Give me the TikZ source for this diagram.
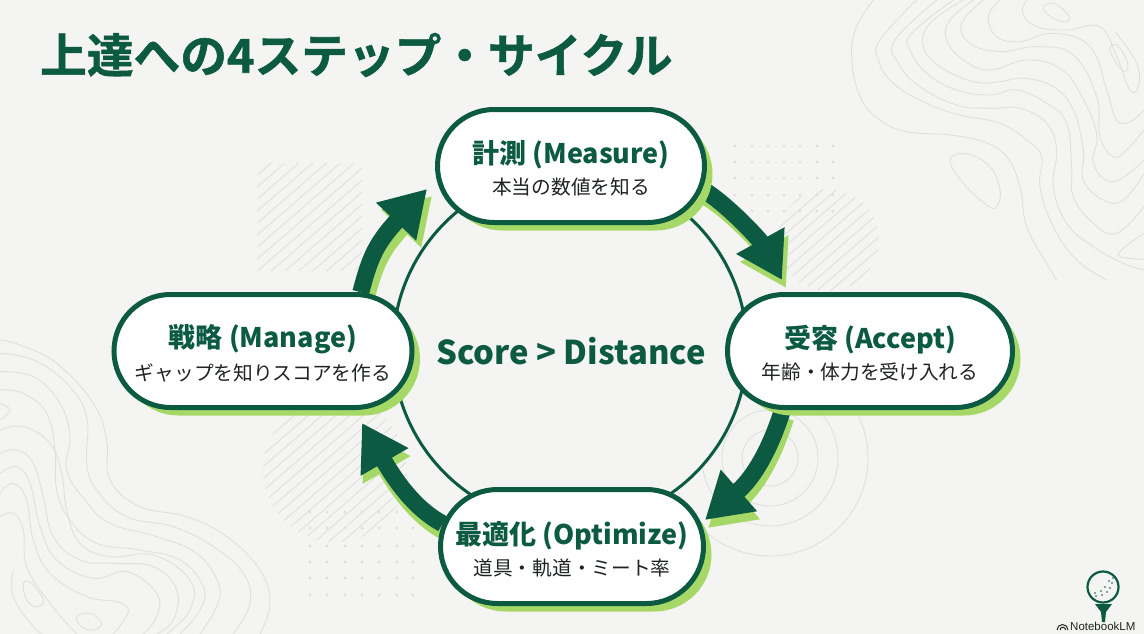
\documentclass[tikz,border=0pt]{standalone}
\usepackage{fontspec}
\setmainfont{Noto Sans CJK JP}
\newfontfamily\titlefont[FakeBold=1.2]{Noto Sans CJK JP Bold}
\newfontfamily\logofont{Liberation Sans}
\usetikzlibrary{shapes.misc,shadows,arrows.meta,backgrounds}
\definecolor{dgreen}{HTML}{0B5A41}
\definecolor{lgreen}{HTML}{A6D867}
\definecolor{paper}{HTML}{F4F5F2}
\definecolor{topo}{HTML}{DDE1DD}
\definecolor{dotc}{HTML}{DEE0DD}
\definecolor{txt}{HTML}{1E2422}
\tikzset{
  x=1pt,y=-1pt,
  pill/.style={rounded rectangle,draw=dgreen,line width=5pt,fill=white,inner sep=0pt,align=center,
    general shadow={fill=lgreen,shadow xshift=8pt,shadow yshift=-8pt}},
  arrowmain/.style={draw=dgreen,line width=17pt,-{Triangle[length=45pt,width=52pt,fill=dgreen]}},
  arrowshade/.style={draw=lgreen,line width=17pt,-{Triangle[length=45pt,width=52pt,fill=lgreen]}},
  topoline/.style={draw=topo,line width=.9pt},
  hatchline/.style={draw=topo,line width=.9pt},
}
\newcommand{\nodetext}[2]{\rule{0pt}{28pt}{\fontsize{27}{30}\selectfont\bfseries\color{dgreen}#1}\\[8pt]{\fontsize{19.7}{22}\selectfont\color{txt}#2}}
\newcommand{\topocurve}[1]{\draw[topoline] plot[smooth,tension=.7] coordinates {#1};}
\newcommand{\topoloop}[1]{\draw[topoline] plot[smooth cycle,tension=.7] coordinates {#1};}
\begin{document}
\begin{tikzpicture}
\useasboundingbox (0,0) rectangle (1144,634);
% nodes
\node[pill,minimum width=267pt,minimum height=113pt] (m) at (571,166) {\nodetext{計測 (Measure)}{本当の数値を知る}};
\node[pill,minimum width=285pt,minimum height=113pt] (a) at (870,351) {\nodetext{受容 (Accept)}{年齢・体力を受け入れる}};
\node[pill,minimum width=298pt,minimum height=113pt] (g) at (263,351) {\nodetext{戦略 (Manage)}{ギャップを知りスコアを作る}};
\node[pill,minimum width=263pt,minimum height=114pt] (o) at (572,546.5) {\nodetext{最適化 (Optimize)}{道具・軌道・ミート率}};
\node[font=\fontsize{32.8}{36}\selectfont\bfseries,text=dgreen,inner sep=0pt] (c) at (571,351) {Score > Distance};
\node[font=\titlefont\fontsize{46.7}{50}\selectfont,text=dgreen,inner sep=0pt,anchor=west] (title) at (40,55) {上達への4ステップ・サイクル};
\node[font=\logofont\fontsize{11.5}{13}\selectfont,text=txt,inner sep=0pt,anchor=west] (nb) at (1070,626) {NotebookLM};
\coordinate (tipa) at (782,280);
\coordinate (tipo) at (705,520);
\coordinate (tipg) at (362,423);
\coordinate (tipm) at (427,189);
\coordinate (hub) at (570,348);
\begin{pgfonlayer}{background}
\fill[paper] (0,0) rectangle (1144,634);
% contour lines, top right
\begin{scope}[shift={(840,0)},scale=1/3]
\topocurve{(100,0)(50,80)(35,170)(60,290)(120,360)(200,395)(330,405)(430,425)(500,470)(540,560)(560,680)(620,790)(650,840)}
\topocurve{(230,0)(120,120)(115,180)(160,250)(260,310)(360,345)(480,370)(560,420)(605,470)(600,560)(640,680)(710,780)(800,840)}
\topocurve{(290,0)(165,120)(175,190)(240,260)(350,315)(450,325)(540,325)(620,370)(650,450)(640,560)(680,670)(760,740)(850,790)(912,810)}
\topocurve{(340,0)(215,100)(210,150)(260,220)(350,270)(450,285)(530,270)(620,310)(680,370)(695,500)(700,590)(760,670)(830,700)(912,620)}
\topocurve{(370,0)(270,70)(250,140)(300,200)(400,245)(480,245)(550,235)(640,260)(700,330)(730,450)(730,540)(790,600)(850,600)(912,520)}
\topocurve{(400,0)(330,60)(320,120)(370,180)(450,210)(560,180)(660,205)(720,280)(770,400)(760,490)(820,545)(912,480)}
\topocurve{(430,0)(365,70)(390,130)(480,155)(590,140)(700,165)(770,290)(780,410)(820,470)(860,450)(912,390)}
\topocurve{(480,0)(445,50)(470,110)(540,125)(640,100)(750,140)(800,270)(830,360)(870,365)(912,330)}
\topocurve{(560,0)(548,40)(590,80)(680,90)(780,80)(830,170)(870,270)(895,260)(890,190)(825,95)}
\topocurve{(912,700)(850,745)(840,770)(912,778)}
\topoloop{(610,25)(640,10)(685,45)(680,65)(640,55)}
\topoloop{(810,150)(830,135)(860,180)(860,212)(840,205)}
\topoloop{(330,480)(380,462)(450,500)(480,570)(470,620)(440,615)(370,550)}
\end{scope}
% contour lines, bottom left
\begin{scope}[shift={(0,340)},scale=1/3]
\topocurve{(0,0)(60,15)(170,70)(280,190)(320,300)(330,420)(420,500)(560,530)(680,590)(780,690)(810,790)(780,882)}
\topocurve{(0,40)(100,60)(200,130)(260,230)(260,370)(290,450)(380,530)(520,560)(640,620)(730,700)(750,790)(700,882)}
\topocurve{(0,95)(100,110)(180,190)(210,290)(200,390)(255,480)(330,550)(470,590)(590,640)(655,730)(650,800)(600,882)}
\topocurve{(0,150)(70,160)(140,220)(165,330)(170,450)(210,540)(290,610)(420,630)(540,660)(610,740)(600,810)(540,882)}
\topocurve{(0,270)(70,260)(150,310)(185,400)(200,510)(240,610)(330,650)(460,645)(570,720)(570,810)(500,882)}
\topocurve{(0,340)(50,330)(100,370)(130,470)(160,590)(240,660)(340,670)(460,680)(530,750)(520,840)(470,882)}
\topocurve{(0,400)(50,380)(90,430)(120,560)(170,660)(280,715)(380,695)(470,760)(470,830)(430,882)}
\topocurve{(0,460)(40,430)(80,480)(100,600)(150,700)(260,770)(350,785)(385,815)(340,882)}
\topocurve{(0,530)(40,520)(70,570)(80,680)(150,790)(230,882)}
\topocurve{(40,690)(40,770)(100,860)(130,882)}
\topoloop{(70,730)(95,730)(130,780)(110,800)(80,780)}
\topoloop{(230,830)(270,820)(305,850)(280,870)(245,860)}
\topocurve{(0,190)(30,210)(0,240)}
\end{scope}
% hatch patches
\begin{scope}
\clip (257,163) rectangle (362,270);
\foreach \k in {0,...,18} \draw[hatchline] (240,190+\k*12) -- ++(150,-130);
\end{scope}
\begin{scope}
\clip (828,240) circle[radius=51];
\foreach \k in {0,...,16} \draw[hatchline] (760,220+\k*12) -- ++(150,-130);
\end{scope}
\begin{scope}
\clip (335,470) circle[radius=72];
\foreach \k in {0,...,20} \draw[hatchline] (250,430+\k*12) -- ++(190,-165);
\end{scope}
% dots
\foreach \xx in {735,752,768,784,800,817,833} \foreach \yy in {146,162,178,195,211}
  \fill[dotc] (\xx,\yy) circle[radius=1.6];
\foreach \xx in {310,327,345,362,379,397,413} \foreach \yy in {512,528,546,562,578,595}
  \fill[dotc] (\xx,\yy) circle[radius=1.6];
% rings
\foreach \r in {28,48,68,98} \draw[topoline] (770,458) circle[radius=\r];
% hub ring
\draw[dgreen,line width=3pt,fill=paper] (hub) circle[radius=177];
% arrow shades
\draw[arrowshade] ([xshift=4pt,yshift=-8pt]m.-10) .. controls +(25,15) and +(-22,-40) .. ([xshift=4pt,yshift=-8pt]tipa);
\draw[arrowshade] ([xshift=3pt,yshift=-8pt]a.214) .. controls +(-8,25) and +(55,-48) .. ([xshift=3pt,yshift=-8pt]tipo);
\draw[arrowshade] ([xshift=2pt,yshift=-8pt]o.170) .. controls +(-28,-15) and +(33,57) .. ([xshift=2pt,yshift=-8pt]tipg);
\draw[arrowshade] ([xshift=5pt,yshift=-7pt]g.31) .. controls +(8,-30) and +(-53,56) .. ([xshift=5pt,yshift=-7pt]tipm);
% arrows
\draw[arrowmain] (m.-10) .. controls +(25,15) and +(-22,-40) .. (tipa);
\draw[arrowmain] (a.214) .. controls +(-8,25) and +(55,-48) .. (tipo);
\draw[arrowmain] (o.170) .. controls +(-28,-15) and +(33,57) .. (tipg);
\draw[arrowmain] (g.31) .. controls +(8,-30) and +(-53,56) .. (tipm);
% logo
\draw[dgreen,line width=2.2pt] (1103,587) circle[radius=15.5];
\foreach \px/\py in {1112/583, 1110/588, 1107/592, 1102/595, 1096/596, 1109/581, 1105/587, 1101/591, 1095/593, 1113/578}
  \fill[dgreen] (\px,\py) circle[radius=.8];
\fill[dgreen] (1095,604) -- (1112,604) -- (1106,612) -- (1105,622) -- (1102,622) -- (1101,612) -- cycle;
\draw[txt,line width=1pt] (1057,630) arc[start angle=180,end angle=360,radius=5.5];
\draw[txt,line width=1pt] (1060,630) arc[start angle=180,end angle=360,radius=2.8];
\end{pgfonlayer}
\end{tikzpicture}
\end{document}
